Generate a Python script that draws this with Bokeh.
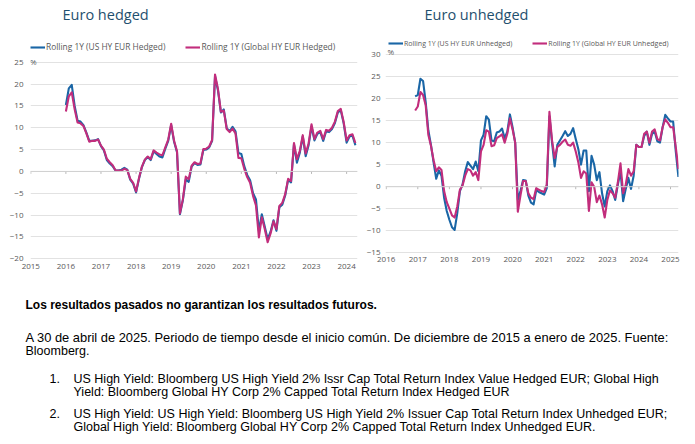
from bokeh.plotting import figure
from bokeh.models import Range1d, FixedTicker, Legend, LegendItem, Span, Label, ColumnDataSource
from bokeh.layouts import column, row
from bokeh.embed import file_html
from bokeh.resources import INLINE
from bokeh.core.properties import value

# ---------------- data ----------------
left_title = "Euro hedged"
right_title = "Euro unhedged"
left_names = ["Rolling 1Y (US HY EUR Hedged)", "Rolling 1Y (Global HY EUR Hedged)"]
right_names = ["Rolling 1Y (US HY EUR Unhedged)", "Rolling 1Y (Global HY EUR Unhedged)"]

left_start = (2016, 1)     # first monthly observation shown in left chart
right_start = (2016, 12)   # first monthly observation shown in right chart

left_xticks = [2015, 2016, 2017, 2018, 2019, 2020, 2021, 2022, 2023, 2024]
right_xticks = [2016, 2017, 2018, 2019, 2020, 2021, 2022, 2023, 2024, 2025]
left_yticks = [-20, -15, -10, -5, 0, 5, 10, 15, 20, 25]
right_yticks = [-15, -10, -5, 0, 5, 10, 15, 20, 25, 30]

us_hedged = [15.2, 19.0, 19.8, 15.0, 11.6, 11.4, 10.6, 8.9, 7.0, 7.0,
             7.1, 7.4, 5.8, 4.8, 2.6, 1.8, 1.2, 0.2, 0.2, 0.4,
             0.8, 0.4, -1.9, -2.8, -4.8, -1.7, 1.0, 2.6, 3.3, 2.6,
             4.6, 4.0, 3.4, 3.2, 5.2, 7.0, 10.6, 6.8, 4.4, -9.8,
             -6.6, -1.8, -2.4, 1.1, 1.9, 1.5, 1.6, 4.9, 5.0, 5.5,
             7.0, 21.8, 18.6, 13.5, 14.2, 9.9, 9.2, 10.2, 9.2, 4.2,
             4.0, 1.2, -0.8, -2.0, -5.0, -6.4, -13.6, -9.8, -12.6, -15.5,
             -13.8, -11.2, -13.6, -8.2, -7.6, -5.5, -1.9, -2.5, 6.2, 2.0,
             4.3, 8.0, 3.5, 6.0, 10.3, 7.1, 8.6, 9.0, 7.0, 9.2,
             9.0, 9.7, 11.1, 13.5, 14.0, 11.0, 6.6, 8.0, 8.2, 6.0]
gl_hedged = [13.7, 17.2, 18.1, 14.2, 11.2, 11.0, 10.4, 8.7, 6.8, 7.0,
             7.0, 7.3, 5.9, 5.0, 2.9, 2.1, 1.4, 0.2, 0.2, 0.2,
             0.6, 0.3, -1.7, -2.6, -4.6, -1.5, 1.1, 2.7, 3.4, 2.8,
             4.8, 4.3, 3.9, 3.7, 5.5, 7.3, 10.9, 7.0, 4.6, -9.6,
             -6.4, -1.2, -1.8, 1.3, 2.1, 1.7, 1.8, 5.1, 5.2, 5.7,
             7.2, 22.2, 18.9, 13.7, 13.9, 9.7, 9.0, 9.8, 8.7, 3.1,
             3.0, 0.6, -1.3, -2.6, -5.6, -7.8, -15.1, -10.5, -13.2, -16.2,
             -14.2, -11.4, -13.2, -7.9, -7.2, -5.2, -1.7, -2.2, 6.5, 2.8,
             4.7, 8.3, 4.1, 6.4, 10.8, 7.4, 8.9, 9.3, 7.4, 9.5,
             9.3, 10.0, 11.4, 13.8, 14.3, 11.3, 7.1, 8.3, 8.5, 6.5]

us_unhedged = [20.5, 20.8, 24.5, 24.0, 19.2, 12.8, 9.5, 5.5, 1.8, 3.7,
               2.5, -2.5, -5.5, -7.5, -9.2, -9.8, -6.0, -1.0, 0.5, 3.5,
               5.6, 4.8, 4.0, 5.7, 3.5, 10.5, 11.8, 16.0, 15.2, 10.5,
               10.3, 12.3, 12.5, 13.2, 11.0, 12.5, 16.4, 13.5, 10.0, -3.0,
               -1.0, 1.5, 1.4, -2.0, -3.6, -4.0, -0.8, -1.2, -1.5, -1.8,
               -0.3, 16.0, 10.0, 4.6, 9.5, 10.5, 11.5, 12.6, 11.5, 12.0,
               13.3, 10.8, 8.5, 5.0, 8.2, 8.2, -1.0, 7.0, 5.0, 1.5,
               3.3, -1.5, -4.5, -1.0, 0.3, -1.0, -3.0, 0.5, 3.5, -3.3,
               -0.5, 2.0, -0.5, 2.5, 9.5, 9.0, 9.0, 11.5, 12.5, 9.5,
               12.0, 12.5, 10.3, 10.0, 13.5, 16.3, 15.5, 14.8, 14.8, 8.0,
               2.2]
gl_unhedged = [17.3, 18.2, 21.5, 20.8, 18.5, 11.8, 9.3, 6.0, 3.5, 4.4,
               3.8, -1.0, -3.5, -5.0, -6.5, -7.0, -4.5, -0.7, 0.3, 2.5,
               4.0, 3.7, 2.5, 3.3, 1.5, 8.0, 9.5, 12.8, 12.5, 9.2,
               9.4, 11.0, 11.4, 11.9, 10.0, 12.0, 15.5, 13.0, 10.0, -5.7,
               -2.0, 1.3, 1.3, -1.5, -2.5, -2.8, -0.3, -0.7, -1.0, -1.2,
               0.5, 17.0, 10.5, 6.5, 9.0, 9.5, 10.2, 10.7, 9.5, 9.3,
               10.0, 8.0, 5.5, 2.0, 3.5, 3.0, -5.5, 1.0, 0.0, -3.5,
               -2.0, -4.0, -7.0, -3.0, -0.8, -1.5, -2.5, 1.0, 5.3, -1.5,
               0.5, 4.0, 2.5, 3.5, 9.5, 9.0, 9.0, 12.0, 12.5, 10.0,
               12.5, 13.0, 10.8, 10.5, 13.5, 15.3, 14.5, 13.5, 13.5, 9.0,
               4.0]

footer_bold = "Los resultados pasados no garantizan los resultados futuros."
footer_lines = [
    "A 30 de abril de 2025. Periodo de tiempo desde el inicio común. De diciembre de 2015 a enero de 2025. Fuente:",
    "Bloomberg.",
]
note_numbers = ["1.", "2."]
note_lines = [
    "US High Yield: Bloomberg US High Yield 2% Issr Cap Total Return Index Value Hedged EUR; Global High",
    "Yield: Bloomberg Global HY Corp 2% Capped Total Return Index Hedged EUR",
    "US High Yield: US High Yield: Bloomberg US High Yield 2% Issuer Cap Total Return Index Unhedged EUR;",
    "Global High Yield: Bloomberg Global HY Corp 2% Capped Total Return Index Unhedged EUR.",
]

# ---------------- styles / geometry ----------------
BLUE = "#1a66a6"
PINK = "#c22d7c"
GRID = "#e2e2e2"
AXIS_TXT = "#595959"
TITLE_C = "#1f4f6e"
FONT = "Open Sans"
TOP_H = 294      # height of the chart row
FRAME_B = 259    # common frame bottom of both charts (row aligns frames)


def months(start, n):
    y, m = start
    return [y + (m - 1) / 12 + i / 12 for i in range(n)]


def chart(fig_x, width, frame_l, frame_r, x_anchor, px_per_year, y_hi, y_lo,
          xticks, yticks, title, title_xy, names, s1, s2, start,
          legend_font, legend_pos, y_standoff, x_standoff, pct_xy):
    frame_b = FRAME_B
    # geometry in page pixels -> data ranges
    x0 = x_anchor[0] + (frame_l - x_anchor[1]) / px_per_year
    x1 = x_anchor[0] + (frame_r - x_anchor[1]) / px_per_year
    ppu = (y_lo[1] - y_hi[1]) / (y_hi[0] - y_lo[0])
    ytop = y_hi[0] + y_hi[1] / ppu
    ybot = y_lo[0] - (frame_b - y_lo[1]) / ppu

    def dx(px):
        return x0 + (px - frame_l) / px_per_year

    def dy(py):
        return ytop - py / ppu

    p = figure(width=width, height=TOP_H, x_range=Range1d(x0, x1), y_range=Range1d(ybot, ytop),
               output_backend="svg", toolbar_location=None, title=None,
               min_border_left=int(frame_l - fig_x), min_border_right=int(fig_x + width - frame_r),
               min_border_top=0, min_border_bottom=int(TOP_H - frame_b))
    p.outline_line_color = None
    p.background_fill_color = "white"
    p.xgrid.visible = False
    p.ygrid.ticker = FixedTicker(ticks=yticks)
    p.ygrid.grid_line_color = GRID
    p.ygrid.grid_line_width = 1
    for ax, ticks in ((p.xaxis, xticks), (p.yaxis, yticks)):
        ax.ticker = FixedTicker(ticks=ticks)
        ax.axis_line_color = None
        ax.major_tick_line_color = None
        ax.minor_tick_line_color = None
        ax.major_tick_out = 0
        ax.major_tick_in = 0
        ax.major_label_text_font = FONT
        ax.major_label_text_font_size = "8px"
        ax.major_label_text_color = AXIS_TXT
    p.xaxis.major_label_standoff = x_standoff
    p.yaxis.major_label_standoff = y_standoff

    p.add_layout(Span(location=0, dimension="width", line_color="#d0d0d0", line_width=1))
    tick_len = 2.5 / ppu
    p.segment(x0=xticks, y0=[0] * len(xticks), x1=xticks, y1=[-tick_len] * len(xticks),
              line_color="#b8b8b8", line_width=1)

    x = months(start, len(s1))
    r1 = p.line(x, s1, line_color=BLUE, line_width=2.1, line_join="round")
    r2 = p.line(x, s2, line_color=PINK, line_width=2.1, line_join="round")

    legend = Legend(items=[LegendItem(label=names[0], renderers=[r1]),
                           LegendItem(label=names[1], renderers=[r2])],
                    location=(int(legend_pos[0] - frame_l), int(frame_b - legend_pos[1] - 5)),
                    orientation="horizontal",
                    border_line_color=None, background_fill_alpha=0,
                    padding=0, margin=0, spacing=20,
                    glyph_width=15, glyph_height=10, label_height=10, label_standoff=1,
                    label_text_font=FONT, label_text_font_size=legend_font,
                    label_text_color=AXIS_TXT)
    p.add_layout(legend)

    p.add_layout(Label(x=dx(pct_xy[0]), y=dy(pct_xy[1]), text="%",
                       text_font=FONT, text_font_size="8px", text_color=AXIS_TXT,
                       text_baseline="middle", text_align="left"))
    p.add_layout(Label(x=dx(title_xy[0]), y=dy(title_xy[1]), text=title,
                       text_font=FONT, text_font_size="14.5px", text_color=TITLE_C,
                       text_baseline="middle", text_align="left"))
    return p


p1 = chart(0, 358, 30, 357, (2015, 30.3), 35.09, (25, 61.7), (-20, 258.3),
           left_xticks, left_yticks, left_title, (62, 14), left_names, us_hedged, gl_hedged,
           left_start, "8.4px", (30, 47), 7, 4, (29.5, 61))
p2 = chart(358, 336, 385, 678, (2016, 385.7), 31.59, (30, 54.0), (-15, 252.3),
           right_xticks, right_yticks, right_title, (424, 14), right_names, us_unhedged, gl_unhedged,
           right_start, "7px", (388, 43), 5, -3, (387, 50.7))

# ---------------- footer text ----------------
P3_H = 443 - TOP_H
p3 = figure(width=694, height=P3_H, x_range=Range1d(0, 694), y_range=Range1d(P3_H, 0),
            output_backend="svg", toolbar_location=None, title=None,
            min_border_left=0, min_border_right=0, min_border_top=0, min_border_bottom=0)
p3.outline_line_color = None
p3.axis.visible = False
p3.grid.visible = False

TXT_FONT = value("Liberation Sans")
off = TOP_H
p3.text(x=[25], y=[304 - off], text=[footer_bold], text_font=TXT_FONT, text_font_size="12px",
        text_font_style="bold", text_baseline="middle", text_color="#000000")
p3.text(x=[25], y=[337 - off], text=[footer_lines[0]], text_font=TXT_FONT,
        text_font_size="12.9px", text_baseline="middle", text_color="#000000")
p3.text(x=[25], y=[350 - off], text=[footer_lines[1]], text_font=TXT_FONT,
        text_font_size="12.5px", text_baseline="middle", text_color="#000000")
p3.text(x=[49, 49], y=[378 - off, 413 - off], text=note_numbers, text_font=TXT_FONT,
        text_font_size="12.5px", text_baseline="middle", text_color="#000000")
note_src = ColumnDataSource(dict(
    x=[73, 73, 73, 73],
    y=[378 - off, 391 - off, 413 - off, 426 - off],
    t=note_lines,
))
p3.text(x="x", y="y", text="t", source=note_src, text_font=TXT_FONT, text_font_size="12.5px",
        text_baseline="middle", text_color="#000000")

layout = column(row(p1, p2), p3)
open("out.html", "w").write(file_html(layout, INLINE))
